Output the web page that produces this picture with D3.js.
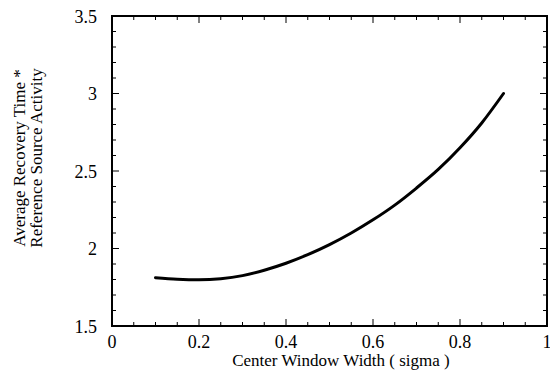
<!DOCTYPE html>
<html>
<head>
<meta charset="utf-8">
<script src="https://cdn.jsdelivr.net/npm/d3@7"></script>
<style>
  body { margin: 0; background: #fff; }
</style>
</head>
<body>
<div id="chart"></div>
<script>
// curve
var widths = [0.10, 0.15, 0.20, 0.25, 0.30, 0.35, 0.40, 0.45, 0.50, 0.55, 0.60, 0.65, 0.70, 0.75, 0.80, 0.85, 0.90];
var recovery = [1.812, 1.802, 1.798, 1.805, 1.825, 1.86, 1.905, 1.96, 2.025, 2.10, 2.185, 2.28, 2.39, 2.51, 2.65, 2.81, 3.00];

var xTicks = [0, 0.2, 0.4, 0.6, 0.8, 1];
var yTicks = [1.5, 2, 2.5, 3, 3.5];

var serif = "Liberation Serif, DejaVu Serif, serif";

var width = 550,
    height = 371;
var margin = {top: 16, right: 3, bottom: 45, left: 112};

var svg = d3.select("#chart")
  .append("svg")
  .attr("width", width)
  .attr("height", height);

var x = d3.scaleLinear().domain([0, 1]).range([margin.left, width - margin.right]);
var y = d3.scaleLinear().domain([1.5, 3.5]).range([height - margin.bottom, margin.top]);

var x0 = x(0), x1 = x(1), y0 = y(1.5), y1 = y(3.5);

// minor + major ticks, pointing inward on all four sides
var xMinor = d3.range(0, 1.0001, 0.05);
var yMinor = d3.range(1.5, 3.5001, 0.1);

var ticks = svg.append("g").attr("stroke", "#000").attr("stroke-width", 1);
xMinor.forEach(function(v) {
  var major = Math.abs(v * 5 - Math.round(v * 5)) < 1e-6;
  var len = major ? 7 : 4;
  ticks.append("line").attr("x1", x(v)).attr("x2", x(v)).attr("y1", y0).attr("y2", y0 - len);
  ticks.append("line").attr("x1", x(v)).attr("x2", x(v)).attr("y1", y1).attr("y2", y1 + len);
});
yMinor.forEach(function(v) {
  var major = Math.abs(v * 2 - Math.round(v * 2)) < 1e-6;
  var len = major ? 7 : 4;
  ticks.append("line").attr("y1", y(v)).attr("y2", y(v)).attr("x1", x0).attr("x2", x0 + len);
  ticks.append("line").attr("y1", y(v)).attr("y2", y(v)).attr("x1", x1).attr("x2", x1 - len);
});

// frame
svg.append("rect")
  .attr("x", x0).attr("y", y1)
  .attr("width", x1 - x0).attr("height", y0 - y1)
  .attr("fill", "none")
  .attr("stroke", "#000")
  .attr("stroke-width", 2);

// tick labels
svg.selectAll(".xl")
  .data(xTicks)
  .join("text")
  .attr("x", function(d) { return x(d); })
  .attr("y", 348)
  .attr("text-anchor", "middle")
  .attr("font-family", serif)
  .attr("font-size", 18)
  .text(function(d) { return d; });

svg.selectAll(".yl")
  .data(yTicks)
  .join("text")
  .attr("x", x0 - 15)
  .attr("y", function(d) { return y(d) + 6.5; })
  .attr("text-anchor", "end")
  .attr("font-family", serif)
  .attr("font-size", 18)
  .text(function(d) { return d; });

// the curve
var line = d3.line()
  .x(function(d, i) { return x(widths[i]); })
  .y(function(d) { return y(d); })
  .curve(d3.curveMonotoneX);

svg.append("path")
  .attr("d", line(recovery))
  .attr("fill", "none")
  .attr("stroke", "#000")
  .attr("stroke-width", 3)
  .attr("stroke-linecap", "round");

// axis titles
svg.append("text")
  .attr("x", 341)
  .attr("y", 366)
  .attr("text-anchor", "middle")
  .attr("font-family", serif)
  .attr("font-size", 17)
  .text("Center Window Width ( sigma )");

var yt = svg.append("text")
  .attr("transform", "translate(25,158) rotate(-90)")
  .attr("text-anchor", "middle")
  .attr("font-family", serif)
  .attr("font-size", 17);
yt.append("tspan").attr("x", 0).attr("dy", 0).text("Average Recovery Time *");
yt.append("tspan").attr("x", 0).attr("dy", 17).text("Reference Source Activity");
</script>
</body>
</html>
